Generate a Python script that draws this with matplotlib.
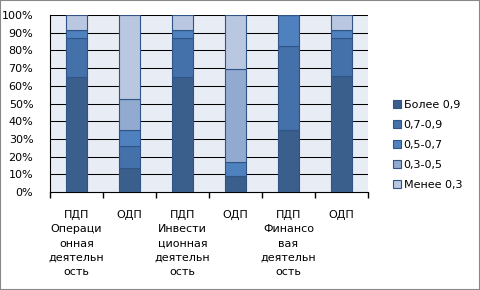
import numpy as np
import matplotlib; matplotlib.use("Agg")
import matplotlib.pyplot as plt
from matplotlib.patches import Rectangle

plt.rcParams["axes.grid"] = False

categories = ["ПДП\nОпераци\nонная\nдеятельн\nость", "ОДП",
              "ПДП\nИнвести\nционная\nдеятельн\nость", "ОДП",
              "ПДП\nФинансо\nвая\nдеятельн\nость", "ОДП"]
series = ["Более 0,9", "0,7-0,9", "0,5-0,7", "0,3-0,5", "Менее 0,3"]
more_09 = [65.0, 13.4, 65.0, 9.0, 35.0, 65.3]
r07_09 = [21.8, 12.8, 21.8, 0.0, 47.5, 21.5]
r05_07 = [4.5, 8.6, 4.5, 8.0, 17.5, 4.5]
r03_05 = [0.0, 17.5, 0.0, 52.3, 0.0, 0.0]
less_03 = [8.7, 47.7, 8.7, 30.7, 0.0, 8.7]
colors = ["#3a5f8c", "#4471a9", "#4e81bd", "#93aad0", "#b9c7e0"]

fig = plt.figure(figsize=(4.8, 2.9), dpi=100)
ax = fig.add_axes([50 / 480, 1 - 192 / 290, 318 / 480, 177 / 290])
ax.set_facecolor("#e8ecf4")
x = np.arange(len(categories))
bottom = np.zeros(len(categories))
for vals, lab, col in zip([more_09, r07_09, r05_07, r03_05, less_03], series, colors):
    ax.bar(x, vals, 0.41, bottom=bottom, color=col, edgecolor="#2f5587", lw=0.8,
           label=lab, zorder=3)
    bottom += np.array(vals)

ax.set_xlim(-0.5, len(categories) - 0.5)
ax.set_ylim(0, 100)
ax.set_yticks(np.arange(0, 101, 10))
ax.set_yticklabels([f"{v}%" for v in range(0, 101, 10)], fontsize=8)
ax.tick_params(axis="y", length=0, pad=12)
# category boundaries as minor ticks, no major ticks on x
ax.set_xticks([])
ax.set_xticks(np.arange(-0.5, len(categories), 1), minor=True)
ax.tick_params(axis="x", which="minor", length=4, width=1, direction="out")
for yv in np.arange(10, 101, 10):
    ax.axhline(yv, color="black", lw=0.75, zorder=1)
for s in ["top", "right"]:
    ax.spines[s].set_visible(False)
ax.spines["left"].set_color("black")
ax.spines["bottom"].set_color("black")
for xi, c in zip(x, categories):
    ax.text(xi, -10, c, ha="center", va="top", fontsize=8, linespacing=1.55,
            clip_on=False)

ax.legend(loc="center left", bbox_to_anchor=(383 / 480, 0.5),
          bbox_transform=fig.transFigure, frameon=False, fontsize=8,
          handlelength=0.75, handleheight=0.75, handletextpad=0.2, labelspacing=0.9)
fig.add_artist(Rectangle((0, 0), 1, 1, transform=fig.transFigure, fill=False,
                         edgecolor="#888888", lw=1.5))
fig.savefig("out.png", dpi=100)
